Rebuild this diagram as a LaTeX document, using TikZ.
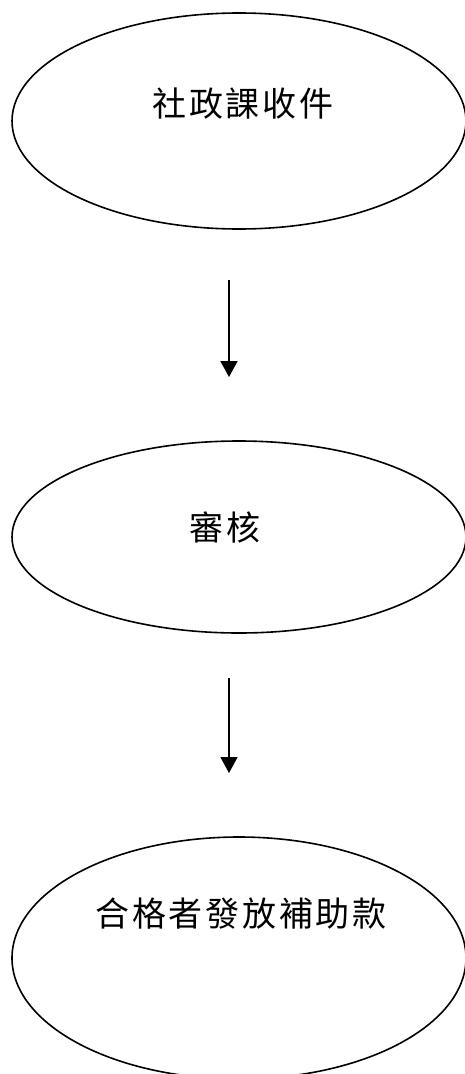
\documentclass[tikz,border=0pt]{standalone}
\usepackage{fontspec}
\newfontfamily\cjk[LetterSpace=8]{Noto Sans CJK TC}
\usetikzlibrary{shapes.geometric,arrows.meta}
\tikzset{
  oval/.style={draw=black,line width=1.6pt,ellipse,inner sep=0pt,minimum width=454pt},
  lbl/.style={font=\cjk\fontsize{34pt}{40pt}\selectfont,inner sep=0pt,anchor=center},
  flow/.style={line width=1.8pt,-{Triangle[width=17pt,length=16pt]}}
}
\begin{document}
\begin{tikzpicture}[x=1pt,y=1pt]
\useasboundingbox (0,0) rectangle (464,-1074);
\node[oval,minimum height=216pt] (e1) at (239,-121) {};
\node[oval,minimum height=192pt] (e2) at (239,-537) {};
\node[oval,minimum height=242pt] (e3) at (239,-958) {};
\node[lbl] (t1) at (243,-104) {社政課收件};
\node[lbl] (t2) at (225,-528) {審核};
\node[lbl] (t3) at (241,-914) {合格者發放補助款};
\coordinate (a1s) at (229,-280);
\coordinate (a1e) at (229,-377);
\coordinate (a2s) at (229,-678);
\coordinate (a2e) at (229,-773);
\draw[flow] (a1s) -- (a1e);
\draw[flow] (a2s) -- (a2e);
\end{tikzpicture}
\end{document}
